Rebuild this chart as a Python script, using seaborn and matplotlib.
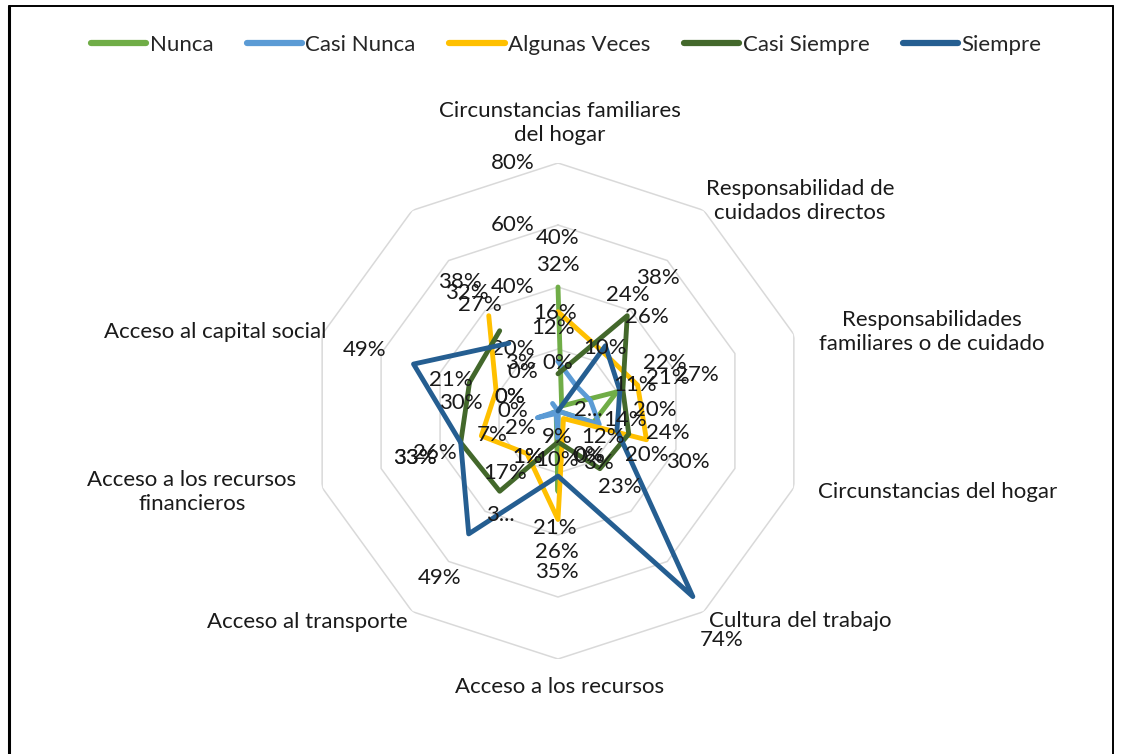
import numpy as np
import pandas as pd
import seaborn as sns
import matplotlib
matplotlib.use("Agg")
import matplotlib.pyplot as plt
from matplotlib.lines import Line2D

# ---------------- data ----------------
categories = [
    "Circunstancias familiares\ndel hogar",
    "Responsabilidad de\ncuidados directos",
    "Responsabilidades\nfamiliares o de cuidado",
    "Circunstancias del hogar",
    "Cultura del trabajo",
    "Acceso a los recursos",
    "Acceso al transporte",
    "Acceso a los recursos\nfinancieros",
    "Acceso al capital social",
    "",
]
series_names = ["Nunca", "Casi Nunca", "Algunas Veces", "Casi Siempre", "Siempre"]
nunca = [40, 2, 20, 12, 0, 26, 1, 2, 0, 0]
casi_nunca = [16, 10, 11, 14, 0, 9, 1, 7, 0, 3]
algunas_veces = [32, 24, 27, 30, 3, 35, 17, 26, 21, 38]
casi_siempre = [12, 38, 22, 24, 23, 10, 32, 33, 30, 32]
siempre = [0, 26, 21, 20, 74, 21, 49, 33, 49, 27]
ring_ticks = [0, 20, 40, 60, 80]
# labels that are shown truncated in the original
truncated = {("Nunca", 1): "2...", ("Casi Siempre", 6): "3..."}

# ---------------- style / layout ----------------
colors = {
    "Nunca": "#70AD47",
    "Casi Nunca": "#5B9BD5",
    "Algunas Veces": "#FFC000",
    "Casi Siempre": "#43682B",
    "Siempre": "#255E91",
}
W, H = 1121, 754
# data-label positions (pixels, top-left origin) as placed in the original
label_pos = {
    "Nunca": [(558, 238), (588, 410), (655, 410), (603, 437), (588, 455),
              (557, 552), (528, 457), (520, 428), (510, 397), (523, 372)],
    "Casi Nunca": [(555, 313), (605, 348), (635, 385), (625, 420), (590, 457),
                   (557, 437), (528, 457), (492, 435), (510, 397), (520, 363)],
    "Algunas Veces": [(558, 265), (628, 295), (697, 375), (688, 462), (598, 463),
                      (557, 572), (505, 473), (435, 453), (451, 380), (460, 282)],
    "Casi Siempre": [(553, 328), (658, 278), (665, 363), (668, 433), (620, 487),
                     (557, 460), (500, 515), (415, 458), (461, 403), (467, 293)],
    "Siempre": [(558, 363), (647, 317), (668, 378), (647, 455), (722, 640),
                (555, 528), (440, 578), (415, 458), (365, 350), (480, 305)],
}
cat_pos = [(560, 123), (800, 201), (932, 332), (938, 492), (800, 621),
           (560, 687), (307, 622), (192, 492), (215, 332), (0, 0)]

sns.set_theme(style="white")
plt.rcParams["font.family"] = ["Lato", "DejaVu Sans"]
FS = 16

fig = plt.figure(figsize=(W / 100, H / 100), dpi=100)
fig.patch.set_facecolor("white")

cx, cy, R = 558, 411, 248
ax = fig.add_axes([(cx - R) / W, 1 - (cy + R) / H, 2 * R / W, 2 * R / H],
                  projection="polar")
ax.set_theta_zero_location("N")
ax.set_theta_direction(-1)
ax.set_ylim(0, 80)
ax.grid(False)
ax.spines["polar"].set_visible(False)
ax.set_xticks([])
ax.set_yticks([])
ax.set_facecolor("none")

n = len(categories)
theta = np.linspace(0, 2 * np.pi, n, endpoint=False)
theta_c = np.append(theta, theta[0])

# decagon rings
for r in ring_ticks[1:]:
    ax.plot(theta_c, [r] * (n + 1), color="#D9D9D9", lw=1.1, zorder=1)

# ring labels
for r in ring_ticks:
    ax.annotate(f"{r}%", xy=(0, r), xytext=(-45, 0), textcoords="offset pixels",
                ha="center", va="center", fontsize=FS, color="#1a1a1a", zorder=2)

values = {
    "Nunca": nunca,
    "Casi Nunca": casi_nunca,
    "Algunas Veces": algunas_veces,
    "Casi Siempre": casi_siempre,
    "Siempre": siempre,
}

for i, name in enumerate(series_names):
    v = values[name]
    df = pd.DataFrame({"theta": theta_c, "value": v + [v[0]]})
    sns.lineplot(data=df, x="theta", y="value", sort=False, ax=ax,
                 color=colors[name], lw=3.5, legend=False, zorder=3 + i)

ax.set_xlabel("")
ax.set_ylabel("")
ax.set_ylim(0, 80)

# data labels
for name in series_names:
    v = values[name]
    for k in range(n):
        txt = truncated.get((name, k), f"{v[k]}%")
        px, py = label_pos[name][k]
        ax.annotate(txt, xy=(theta[k], v[k]), xytext=(px, H - py),
                    textcoords="figure pixels", ha="center", va="center",
                    fontsize=FS, color="#1a1a1a", zorder=10)

# category labels
for k, cat in enumerate(categories):
    if not cat:
        continue
    px, py = cat_pos[k]
    fig.text(px / W, 1 - py / H, cat, ha="center", va="center",
             multialignment="center", fontsize=FS, color="#1a1a1a",
             linespacing=1.22)

# legend
handles = [Line2D([0], [0], color=colors[s], lw=4.5, solid_capstyle="round")
           for s in series_names]
fig.legend(handles, series_names, loc="center", bbox_to_anchor=(0.505, 1 - 45 / H),
           ncol=5, frameon=False, fontsize=FS, handlelength=2.5,
           handletextpad=0.15, columnspacing=1.5)

# chart border
fig.add_artist(Line2D([9 / W, 9 / W], [0, 1 - 6 / H], color="black", lw=2.2,
                      transform=fig.transFigure))
fig.add_artist(Line2D([9 / W, 1113 / W], [1 - 6 / H, 1 - 6 / H], color="black",
                      lw=1.4, transform=fig.transFigure))
fig.add_artist(Line2D([1113 / W, 1113 / W], [0, 1 - 6 / H], color="black", lw=1.4,
                      transform=fig.transFigure))

fig.savefig("out.png", dpi=100)
